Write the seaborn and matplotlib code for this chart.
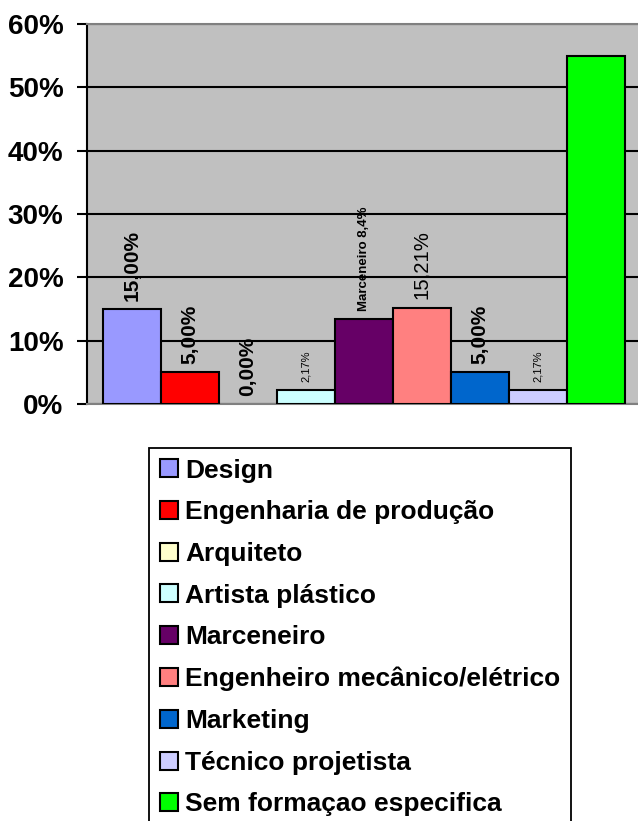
import matplotlib
matplotlib.use("Agg")
import matplotlib.pyplot as plt
import seaborn as sns
import pandas as pd
from matplotlib.patches import Patch

categories = ["Design", "Engenharia de produção", "Arquiteto", "Artista plástico",
              "Marceneiro", "Engenheiro mecânico/elétrico", "Marketing",
              "Técnico projetista", "Sem formaçao especifica"]
values = [15.0, 5.0, 0.0, 2.17, 13.4, 15.21, 5.0, 2.17, 55.0]
bar_labels = ["15,00%", "5,00%", "0,00%", "2,17%", "Marceneiro 8,4%",
              "15,21%", "5,00%", "2,17%", ""]
y_ticks = [0, 10, 20, 30, 40, 50, 60]
y_tick_labels = ["0%", "10%", "20%", "30%", "40%", "50%", "60%"]

colors = ["#9999FF", "#FF0000", "#FFFFCC", "#CCFFFF", "#660066",
          "#FF8080", "#0066CC", "#CCCCFF", "#00FF00"]
label_sizes = [15, 15, 15, 8, 9.5, 14.6, 15, 8, 8]
label_weights = ["bold", "bold", "bold", "normal", "bold", "normal", "bold", "normal", "normal"]

sns.set_style("white")
plt.rcParams["font.family"] = ["Liberation Sans", "DejaVu Sans"]
plt.rcParams["text.color"] = "black"
plt.rcParams["axes.labelcolor"] = "black"
plt.rcParams["xtick.color"] = "black"
plt.rcParams["ytick.color"] = "black"

W, H = 638, 821
fig = plt.figure(figsize=(W / 100, H / 100), dpi=100)
ax = fig.add_axes([87 / W, 1 - 404 / H, 554 / W, 380 / H])
ax.set_facecolor("#C0C0C0")

df = pd.DataFrame({"cat": categories, "val": values})
sns.barplot(data=df, x="cat", y="val", hue="cat", palette=colors, width=1.0,
            dodge=False, edgecolor="black", linewidth=1.5, legend=False,
            saturation=1, ax=ax, zorder=3)

for p in ax.patches:
    if p.get_height() == 0:
        p.set_visible(False)

ax.set_xlim(-0.776, 8.776)
ax.set_ylim(0, 60)
ax.set_xticks([])
ax.set_xlabel("")
ax.set_ylabel("")
ax.set_yticks(y_ticks, labels=y_tick_labels, fontweight="bold", fontsize=20,
              color="black")
ax.tick_params(axis="y", direction="out", length=7, width=1.5, color="black",
               pad=10, left=True)
ax.yaxis.grid(True, color="black", linewidth=1.5)
ax.set_axisbelow(True)

for side in ["top", "bottom"]:
    ax.spines[side].set_color("#808080")
    ax.spines[side].set_linewidth(1.5)
ax.spines["left"].set_color("black")
ax.spines["left"].set_linewidth(1.5)
ax.spines["right"].set_visible(False)

for i, (lab, v) in enumerate(zip(bar_labels, values)):
    if lab:
        ax.annotate(lab, xy=(i, v), xytext=(0, 6), textcoords="offset points",
                    rotation=90, ha="center", va="bottom",
                    fontsize=label_sizes[i], fontweight=label_weights[i],
                    color="black", zorder=5)

handles = [Patch(facecolor=c, edgecolor="black", linewidth=1.5) for c in colors]
leg = fig.legend(handles, categories, loc="upper left",
                 bbox_to_anchor=(149 / W, 1 - 448 / H), bbox_transform=fig.transFigure,
                 borderaxespad=0, frameon=True, fancybox=False, edgecolor="black",
                 prop=dict(weight="bold", size=19), handlelength=0.68,
                 handleheight=0.68, handletextpad=0.3, labelspacing=0.67,
                 borderpad=0.4, framealpha=1, labelcolor="black")
leg.get_frame().set_linewidth(1.3)

fig.savefig("out.png", dpi=100)
